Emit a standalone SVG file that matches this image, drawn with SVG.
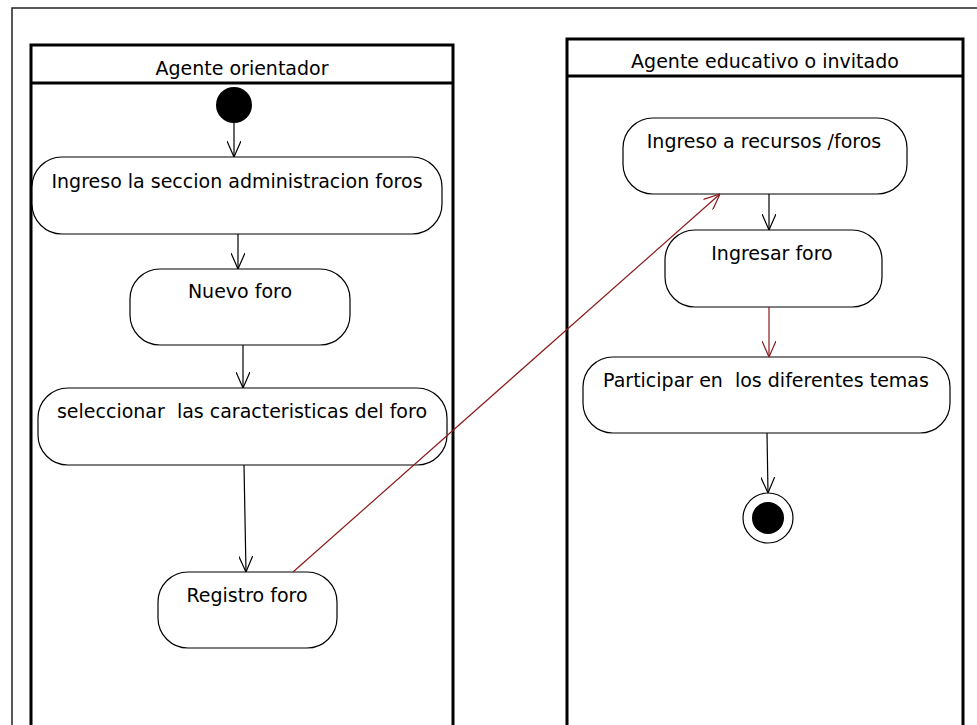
<svg xmlns="http://www.w3.org/2000/svg" width="977" height="725" viewBox="0 0 977 725" xml:space="preserve">
<defs>
<style>
text{font-family:"DejaVu Sans","Liberation Sans",sans-serif;font-size:19px;fill:#000;text-anchor:middle;white-space:pre}
.lane{fill:none;stroke:#000;stroke-width:3}
.act{fill:#fff;stroke:#000;stroke-width:1.2}
.flow{fill:none;stroke:#000;stroke-width:1.2}
.red{fill:none;stroke:#8b1a1a;stroke-width:1.2}
</style>
<marker id="ah" viewBox="0 0 16 14" refX="16" refY="7" markerWidth="16" markerHeight="14" markerUnits="userSpaceOnUse" orient="auto">
<path d="M0,0 L16,7 L0,14" fill="none" stroke="#000" stroke-width="1.2"/>
</marker>
<marker id="ahr" viewBox="0 0 16 14" refX="16" refY="7" markerWidth="16" markerHeight="14" markerUnits="userSpaceOnUse" orient="auto">
<path d="M0,0 L16,7 L0,14" fill="none" stroke="#8b1a1a" stroke-width="1.2"/>
</marker>
</defs>
<rect width="977" height="725" fill="#fff"/>
<path d="M12,725 V8 H977" fill="none" stroke="#222" stroke-width="1.5"/>
<g id="lane-orientador">
<path class="lane" d="M31,725 V45 H453 V725"/>
<line class="lane" x1="31" y1="83" x2="453" y2="83"/>
<text x="242" y="75">Agente orientador</text>
</g>
<g id="lane-educativo">
<path class="lane" d="M567,725 V39 H963 V725"/>
<line class="lane" x1="567" y1="76" x2="963" y2="76"/>
<text x="765" y="68">Agente educativo o invitado</text>
</g>
<g id="start"><circle cx="234" cy="105" r="18" fill="#000"/></g>
<g id="a1"><rect class="act" x="32" y="157" width="410" height="77" rx="30" ry="30"/><text x="237" y="188">Ingreso la seccion administracion foros</text></g>
<g id="a2"><rect class="act" x="130" y="269" width="220" height="76" rx="30" ry="30"/><text x="240" y="298">Nuevo foro</text></g>
<g id="a3"><rect class="act" x="38" y="388" width="409" height="77" rx="30" ry="30"/><text x="242" y="418">seleccionar  las caracteristicas del foro</text></g>
<g id="a4"><rect class="act" x="158" y="572" width="179" height="76" rx="30" ry="30"/><text x="247" y="602">Registro foro</text></g>
<g id="r1"><rect class="act" x="623" y="118" width="284" height="76" rx="30" ry="30"/><text x="764" y="148">Ingreso a recursos /foros</text></g>
<g id="r2"><rect class="act" x="665" y="230" width="217" height="77" rx="30" ry="30"/><text x="772" y="260">Ingresar foro</text></g>
<g id="r3"><rect class="act" x="583" y="357" width="367" height="76" rx="30" ry="30"/><text x="766" y="387">Participar en  los diferentes temas</text></g>
<g id="end"><circle cx="768" cy="518" r="25" fill="#fff" stroke="#000" stroke-width="1.2"/><circle cx="768" cy="518" r="16" fill="#000"/></g>
<g id="connectors">
<line class="flow" x1="234" y1="123" x2="234" y2="157" marker-end="url(#ah)"/>
<line class="flow" x1="238" y1="234" x2="238" y2="269" marker-end="url(#ah)"/>
<line class="flow" x1="243" y1="345" x2="243" y2="388" marker-end="url(#ah)"/>
<line class="flow" x1="244" y1="465" x2="246" y2="572" marker-end="url(#ah)"/>
<line class="red" x1="293" y1="572" x2="720" y2="194" marker-end="url(#ahr)"/>
<line class="flow" x1="769" y1="194" x2="769" y2="230" marker-end="url(#ah)"/>
<line class="red" x1="769" y1="307" x2="769" y2="357" marker-end="url(#ahr)"/>
<line class="flow" x1="767" y1="433" x2="768" y2="493" marker-end="url(#ah)"/>
</g>
</svg>
